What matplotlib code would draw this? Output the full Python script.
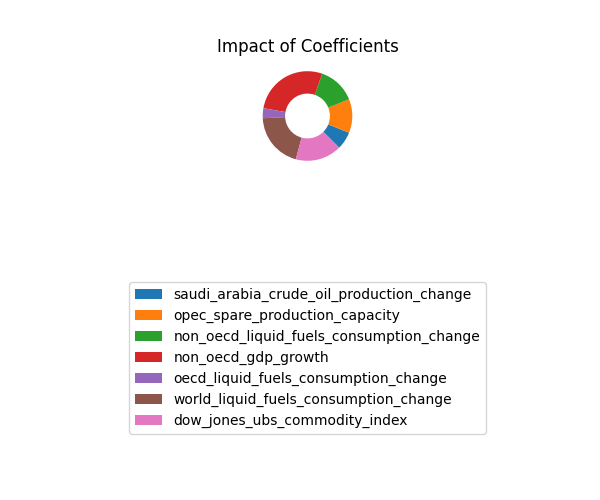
import matplotlib
matplotlib.use("Agg")
import matplotlib.pyplot as plt

labels = ['saudi_arabia_crude_oil_production_change',
          'opec_spare_production_capacity',
          'non_oecd_liquid_fuels_consumption_change',
          'non_oecd_gdp_growth',
          'oecd_liquid_fuels_consumption_change',
          'world_liquid_fuels_consumption_change',
          'dow_jones_ubs_commodity_index']
# share of each coefficient
impact = [0.064, 0.122, 0.136, 0.275, 0.036, 0.200, 0.167]

fig, ax = plt.subplots(figsize=(6, 5), dpi=100)
fig.subplots_adjust(left=0.125, right=0.9, top=0.88, bottom=0.656)
wedges, _ = ax.pie(impact, startangle=-45, wedgeprops=dict(width=0.5))
ax.set_title("Impact of Coefficients")
ax.legend(wedges, labels, loc='upper center',
          bbox_to_anchor=(0.5125, 0.45), bbox_transform=fig.transFigure)
plt.savefig("out.png")
